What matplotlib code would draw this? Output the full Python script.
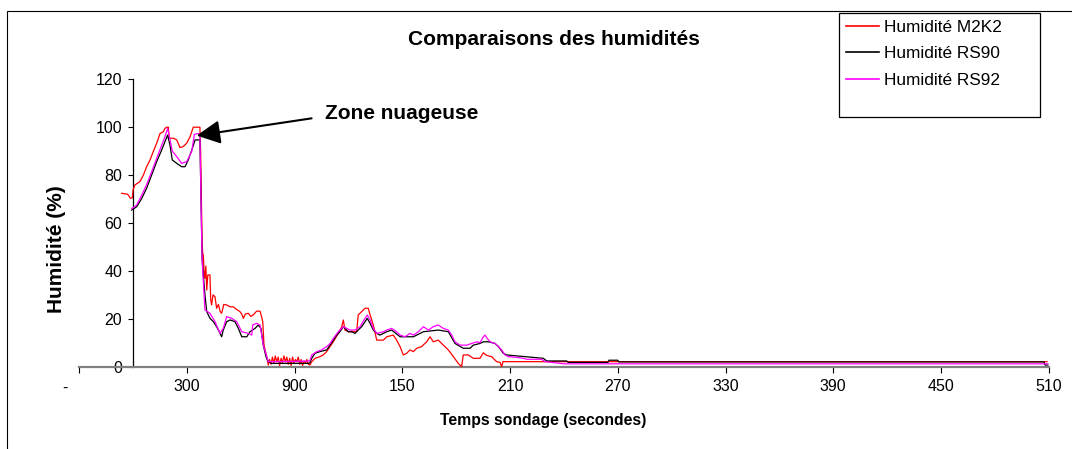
import matplotlib
matplotlib.use('Agg')
import matplotlib.pyplot as plt
from matplotlib.patches import Rectangle
from matplotlib.lines import Line2D

plt.rcParams['font.family'] = ['Liberation Sans', 'DejaVu Sans']

# ---------------- data (time in s, humidity in %) ----------------
series_names = ['Humidité M2K2', 'Humidité RS90', 'Humidité RS92']
series_colors = ['#FF0000', '#000000', '#FF00FF']

m2k2_t = [236, 270, 285, 295, 300, 310, 338, 357, 375, 394, 412, 431, 450, 468, 477, 487, 496, 500,
          505, 524, 543, 561, 579, 598, 617, 635, 663, 672, 676, 680, 684, 688, 691, 695, 700, 705,
          710, 716, 728, 732, 737, 745, 756, 765, 775, 785, 793, 805, 821, 840, 858, 875, 895, 905,
          914, 925, 942, 955, 969, 988, 1007, 1015, 1022, 1029, 1044, 1053,
          1060, 1068, 1076, 1084, 1092, 1100, 1108, 1116, 1124, 1132, 1140, 1148, 1156, 1164, 1172,
          1180, 1188, 1196, 1204, 1212, 1220, 1228, 1236, 1244, 1252, 1260, 1268, 1276, 1285,
          1295, 1313, 1341, 1359, 1378, 1397, 1415, 1443, 1462, 1471, 1480, 1499, 1545, 1554, 1573,
          1592, 1610, 1620, 1638, 1657, 1694, 1713, 1749, 1768, 1787, 1805, 1824, 1842, 1861, 1880,
          1907, 1935, 1954, 1972, 2000, 2028, 2056, 2084, 2111, 2130, 2139, 2167, 2195, 2232, 2251,
          2266, 2279, 2297, 2316, 2325, 2344, 2353, 2360, 5391]
m2k2_rh = [72.4, 72, 70.3, 70.5, 74, 75.9, 77.3, 80, 83.5, 86.3, 89.8, 93.3, 97.4, 98.1, 99.5, 100, 100, 96,
           95.4, 95.4, 94.7, 91.5, 91.9, 93.3, 96, 100, 100, 100, 90, 70, 52, 47, 46.6, 40, 36.9, 42,
           32, 38.3, 38.3, 28, 25.8, 30, 29.2, 24.4, 26, 23, 22.3, 26, 25.8, 25, 25, 24, 23, 22,
           20.2, 22, 22.3, 21, 21.6, 23.2, 23.2, 21, 18.8, 9, 4.2, 0.7,
           3, 1, 4, 1.5, 4.5, 2, 4, 0.5, 3.5, 1.5, 4.5, 2, 4, 1, 3.5,
           0.5, 4, 1.5, 3, 2, 4, 1, 3, 0.5, 2.5, 1.5, 3, 1, 0.7,
           2.1, 3.5, 4.2, 4.9, 6.3, 8.4, 10.4, 13.9, 16.7, 19.5, 15.3, 14.6, 14.6, 21.6, 23,
           24.4, 24.4, 21.6, 17.4, 11.1, 11.1, 12.5, 13.2, 11.1, 8.4, 4.9, 5.6, 7, 6.3, 7.7,
           8.4, 10.4, 12.5, 10.4, 11.1, 9, 7, 4.2, 1.4, 0, 4.9, 4.9, 3.5, 3.5, 5.8,
           4.9, 4.5, 4.2, 2.8, 2.1, 1.8, 0, 2.1, 2.1]

rs90_t = [292, 320, 348, 375, 403, 431, 459, 477, 492, 505, 518, 543, 570, 589, 607, 630, 645, 663,
          672, 678, 684, 700, 710, 728, 747, 765, 780, 793, 802, 821, 840, 867, 886, 905, 933, 951,
          979, 997, 1012, 1025, 1040, 1053, 1070, 1280, 1285, 1295, 1313, 1341, 1378, 1397, 1415,
          1434, 1452, 1471, 1480, 1499, 1518, 1536, 1554, 1573, 1592, 1604, 1620, 1638, 1657, 1675,
          1713, 1740, 1787, 1861, 1917, 2000, 2056, 2093, 2139, 2177, 2195, 2232, 2251, 2279, 2316,
          2335, 2362, 2381, 2483, 2585, 2604, 2715, 2724, 2945, 2950, 3000, 3005, 5375, 5380, 5396]
rs90_rh = [65.4, 66.8, 70.3, 74.5, 80, 85.6, 90.5, 93.9, 96.7, 92.6, 86.3, 84.9, 83.5, 83.5, 86.3, 91.2, 94.7, 94.7,
           94.7, 70, 45, 29.9, 23, 20.2, 18.8, 16.7, 14.6, 12.5, 15.3, 18.8, 19.5, 18.8, 16, 12.5, 12.5, 14.6,
           16, 17.4, 16, 9, 4.2, 2.1, 1.4, 1.4, 1.7, 3.5, 5.6, 6.3, 7, 9, 11.1,
           13.2, 14.6, 16.7, 16, 14.6, 14.6, 13.9, 15.3, 16.7, 18.8, 20.2, 18.1, 15.3, 13.9, 13.2,
           14.6, 15.3, 12.5, 12.5, 14.6, 15.3, 14.6, 9.7, 7.7, 7.7, 9, 9.7, 10.4, 10.4, 9.7,
           8.4, 5.6, 4.9, 4.2, 3.5, 2.4, 2.4, 1.8, 1.8, 2.7, 2.7, 2.0, 2.0, 0.7, 0.7]

rs92_t = [292, 320, 348, 375, 403, 431, 459, 477, 492, 505, 518, 543, 570, 598, 626, 641, 663, 672,
          678, 684, 700, 728, 756, 784, 802, 821, 849, 877, 905, 942, 961, 966, 988, 1007, 1025, 1053,
          1258, 1285, 1295, 1323, 1350, 1378, 1397, 1415, 1443, 1471, 1490, 1508, 1536, 1564, 1586,
          1604, 1620, 1638, 1657, 1694, 1713, 1740, 1768, 1787, 1815, 1842, 1861, 1889, 1917, 1945,
          1972, 2000, 2028, 2056, 2075, 2093, 2121, 2158, 2186, 2214, 2232, 2251, 2260, 2273, 2288,
          2316, 2335, 2353, 2372, 2390, 2437, 2474, 2492, 2576, 2595, 2632, 2700, 5396]
rs92_rh = [66, 67.5, 71.7, 76, 81.4, 87, 92.5, 96, 99.5, 95, 90, 87.7, 84.9, 85.6, 89.8, 97, 97.4, 97,
           70, 45, 23.7, 22.3, 18.8, 13.9, 16, 20.9, 20.2, 18.8, 14.6, 13.9, 13.2, 17.4, 18.1, 17.4, 9, 2.1,
           2.3, 2.5, 4.9, 6.3, 7, 8.4, 9.7, 11.8, 14.6, 16.7, 16, 15.3, 15.3, 16.7, 19.5,
           21.6, 19.5, 16, 13.9, 14.6, 15.3, 16, 14.6, 13.2, 12.5, 13.9, 13.2, 14.6, 16.7, 15.3,
           16.7, 17.4, 16, 15.3, 13.2, 10.4, 9, 9, 9.7, 10.4, 10, 12.5, 13.2, 11.8, 10.4,
           9.7, 8.4, 7, 4.9, 4.2, 3.9, 3.5, 3.1, 3.1, 2.1, 1.8, 1.2, 1.2]

x_tick_pos = [0, 600, 1200, 1800, 2400, 3000, 3600, 4200, 4800, 5400]
x_tick_labels = ['', '300', '900', '150', '210', '270', '330', '390', '450', '510']
y_ticks = [0, 20, 40, 60, 80, 100, 120]

# ---------------- layout ----------------
W, H = 1072, 449
fig = plt.figure(figsize=(W / 100, H / 100), dpi=100)
fig.patch.set_facecolor('white')


def fx(p):
    return p / W


def fy(p):
    return 1 - p / H


x0, x1, y0, y1 = 79.3, 1048.6, 366.7, 79.3
ax = fig.add_axes([fx(x0), fy(y0), fx(x1) - fx(x0), (y0 - y1) / H])
ax.set_xlim(0, 5400)
ax.set_ylim(0, 120)
ax.patch.set_visible(False)
for s in ['top', 'right']:
    ax.spines[s].set_visible(False)
ax.spines['left'].set_position(('data', 300))
ax.spines['left'].set_linewidth(0.9)
ax.spines['bottom'].set_color('#808080')
ax.spines['bottom'].set_linewidth(1.6)

series = [(m2k2_t, m2k2_rh), (rs90_t, rs90_rh), (rs92_t, rs92_rh)]
for (t, rh), c, n in zip(series, series_colors, series_names):
    ax.plot(t, rh, color=c, lw=0.9, clip_on=False, label=n, zorder=3)

ax.set_yticks(y_ticks)
ax.set_yticklabels([str(v) for v in y_ticks])
ax.set_xticks(x_tick_pos)
ax.set_xticklabels(x_tick_labels)
ax.tick_params(axis='y', direction='out', length=3.3, width=0.8, pad=4.7, labelsize=11.5)
ax.tick_params(axis='x', direction='out', length=4.5, width=0.8, pad=4.5, labelsize=11.5)
ax.text(-80, -0.074, '-', transform=ax.get_xaxis_transform(), ha='center', va='center', fontsize=11.5)

# texts
fig.text(fx(554), fy(45), 'Comparaisons des humidités', ha='center', va='baseline',
         fontsize=15, fontweight='bold')
fig.text(fx(56), fy(249), 'Humidité (%)', rotation=90, ha='center', va='center',
         fontsize=15, fontweight='bold')
fig.text(fx(543), fy(420), 'Temps sondage (secondes)', ha='center', va='center',
         fontsize=11.3, fontweight='bold')
fig.text(fx(325), fy(119), 'Zone nuageuse', ha='left', va='baseline', fontsize=15, fontweight='bold')
ax.annotate('', xy=(654, 96.5), xytext=(1294, 103.7),
            arrowprops=dict(arrowstyle='-|>,head_length=0.72,head_width=0.36', mutation_scale=20,
                            lw=1.5, color='black', shrinkA=0, shrinkB=0), zorder=5)

# legend box
fig.add_artist(Rectangle((fx(839), fy(117.3)), fx(1040) - fx(839), (117.3 - 12.7) / H,
                         transform=fig.transFigure, fill=False, ec='black', lw=0.9))
for yy, c, n in zip([25.7, 51.7, 78.7], series_colors, series_names):
    fig.add_artist(Line2D([fx(846), fx(879)], [fy(yy), fy(yy)], color=c, lw=1.2,
                          transform=fig.transFigure))
    fig.text(fx(884), fy(yy + 6), n, ha='left', va='baseline', fontsize=12.4)

# outer frame
fig.add_artist(Rectangle((fx(6.9), -0.2), 1.2, fy(10.7) + 0.2, transform=fig.transFigure,
                         fill=False, ec='black', lw=0.8))

fig.savefig('out.png', dpi=100)
